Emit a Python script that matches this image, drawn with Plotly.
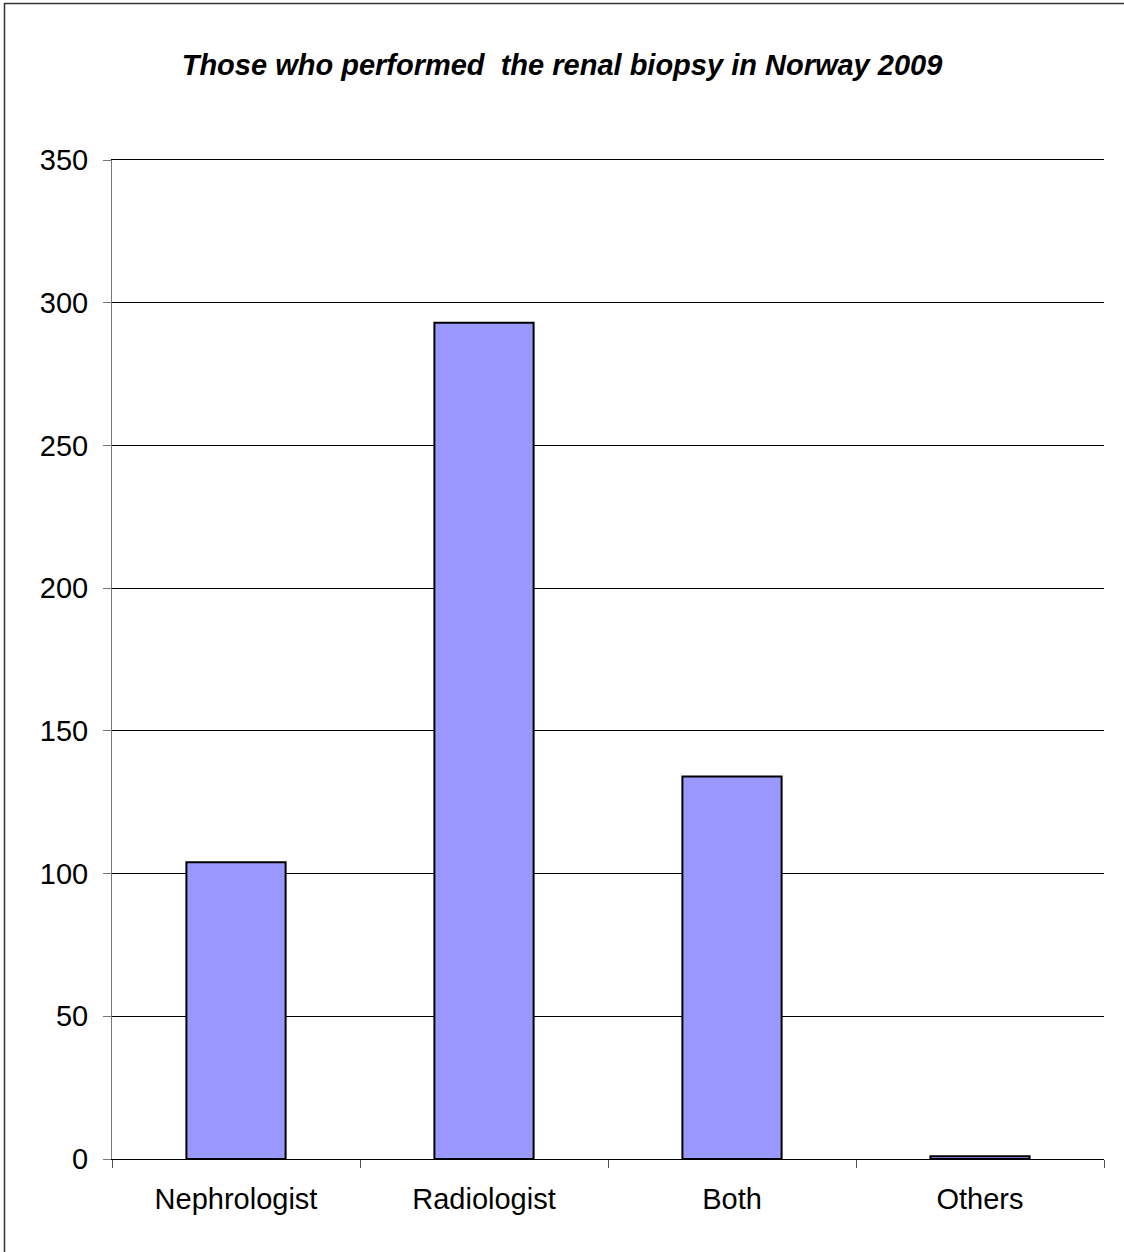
import plotly.graph_objects as go

categories = ["Nephrologist", "Radiologist", "Both", "Others"]
values = [104, 293, 134, 1]
y_ticks = [0, 50, 100, 150, 200, 250, 300, 350]

W, H = 1124, 1252
L, R, T, B = 112, 20, 160, 93
pw, ph = W - L - R, H - T - B

fig = go.Figure(go.Bar(
    x=categories, y=values,
    marker=dict(color="#9999FF", line=dict(color="black", width=2)),
    width=0.4,
))

fig.update_layout(
    width=W, height=H,
    margin=dict(l=L, r=R, t=T, b=B),
    paper_bgcolor="white", plot_bgcolor="white",
    font=dict(family="Arial, Liberation Sans, sans-serif", size=29, color="black"),
    title=dict(
        text="<b><i>Those who performed\u00a0 the renal biopsy in Norway 2009</i></b>",
        x=0.5, xanchor="center", y=1 - 65 / H, yanchor="middle",
        font=dict(size=29, color="black"),
    ),
    showlegend=False,
)
fig.update_xaxes(
    showline=True, linecolor="black", linewidth=1, mirror=True,
    ticks="outside", ticklen=8, tickcolor="#555555", tickson="boundaries",
    showgrid=False, tickfont=dict(size=29), ticklabelstandoff=14,
)
fig.update_yaxes(
    range=[0, 350], tickvals=y_ticks, ticktext=[str(v) for v in y_ticks],
    showline=True, linecolor="#777777", linewidth=1,
    ticks="outside", ticklen=8, tickcolor="#777777",
    showgrid=True, gridcolor="black", gridwidth=1,
    zeroline=False, tickfont=dict(size=29), ticklabelstandoff=9,
)

# outer border around the whole chart (right/bottom edges fall outside the view)
x0 = (4.5 - L) / pw
x1 = (1140 - L) / pw
y0 = -(1270 - (T + ph)) / ph
y1 = 1 + (T - 3.5) / ph
fig.add_shape(type="rect", xref="paper", yref="paper",
              x0=x0, x1=x1, y0=y0, y1=y1,
              line=dict(color="#333333", width=1.5), layer="below")

fig.write_html("out.html", config={"displayModeBar": False},
               post_script="document.body.style.margin='0';")
